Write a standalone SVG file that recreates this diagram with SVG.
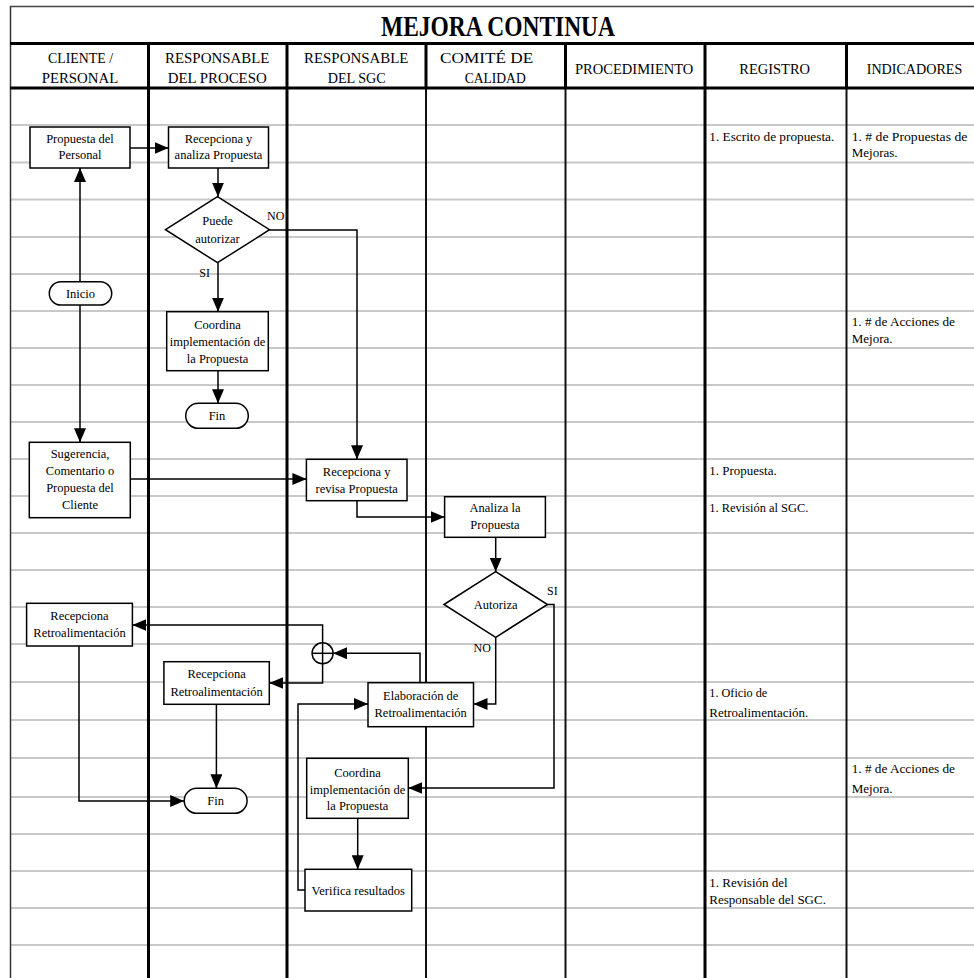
<svg xmlns="http://www.w3.org/2000/svg" width="974" height="978" viewBox="0 0 974 978">
  <style>
    .bg { fill: #ffffff; }
    .row { stroke: #c8c8c8; stroke-width: 2; }
    .lane3 { stroke: #000; stroke-width: 3; }
    .lane2 { stroke: #111; stroke-width: 2; }
    .box { fill: #fff; stroke: #000; stroke-width: 1.5; }
    .con { fill: none; stroke: #000; stroke-width: 1.5; }
    .arr { marker-end: url(#ah); }
    .t { font-family: "Liberation Serif", "Times New Roman", serif; font-size: 12.5px; fill: #000; text-anchor: middle; }
    .h { font-family: "Liberation Serif", "Times New Roman", serif; font-size: 15px; fill: #000; text-anchor: middle; }
    .title { font-family: "Liberation Serif", "Times New Roman", serif; font-size: 30px; font-weight: bold; fill: #000; }
    .note { font-family: "Liberation Serif", "Times New Roman", serif; font-size: 13px; fill: #000; }
    .lbl { font-family: "Liberation Serif", "Times New Roman", serif; font-size: 12px; fill: #000; }
  </style>
  <defs>
    <marker id="ah" markerUnits="userSpaceOnUse" markerWidth="14" markerHeight="12" refX="14" refY="6" orient="auto">
      <path d="M0,0 L14,6 L0,12 z" fill="#000"/>
    </marker>
  </defs>

  <rect class="bg" x="0" y="0" width="974" height="978"/>

  <!-- table grid -->
  <g id="grid">
    <g id="rows">
      <line class="row" x1="10" y1="125" x2="974" y2="125"/>
      <line class="row" x1="10" y1="162.5" x2="974" y2="162.5"/>
      <line class="row" x1="10" y1="199.5" x2="974" y2="199.5"/>
      <line class="row" x1="10" y1="237" x2="974" y2="237"/>
      <line class="row" x1="10" y1="274" x2="974" y2="274"/>
      <line class="row" x1="10" y1="311" x2="974" y2="311"/>
      <line class="row" x1="10" y1="348" x2="974" y2="348"/>
      <line class="row" x1="10" y1="385" x2="974" y2="385"/>
      <line class="row" x1="10" y1="422" x2="974" y2="422"/>
      <line class="row" x1="10" y1="459" x2="974" y2="459"/>
      <line class="row" x1="10" y1="496" x2="974" y2="496"/>
      <line class="row" x1="10" y1="533" x2="974" y2="533"/>
      <line class="row" x1="10" y1="570" x2="974" y2="570"/>
      <line class="row" x1="10" y1="607" x2="974" y2="607"/>
      <line class="row" x1="10" y1="644" x2="974" y2="644"/>
      <line class="row" x1="10" y1="682" x2="974" y2="682"/>
      <line class="row" x1="10" y1="720" x2="974" y2="720"/>
      <line class="row" x1="10" y1="758" x2="974" y2="758"/>
      <line class="row" x1="10" y1="797" x2="974" y2="797"/>
      <line class="row" x1="10" y1="834" x2="974" y2="834"/>
      <line class="row" x1="10" y1="871" x2="974" y2="871"/>
      <line class="row" x1="10" y1="908" x2="974" y2="908"/>
      <line class="row" x1="10" y1="945" x2="974" y2="945"/>
    </g>
    <g id="lanes">
      <line x1="10.5" y1="6" x2="10.5" y2="978" stroke="#333" stroke-width="1.5"/>
      <line x1="10" y1="6.5" x2="974" y2="6.5" stroke="#444" stroke-width="1.5"/>
      <line class="lane3" x1="148.5" y1="44" x2="148.5" y2="978"/>
      <line class="lane3" x1="287" y1="44" x2="287" y2="978"/>
      <line class="lane2" x1="426" y1="44" x2="426" y2="978"/>
      <line class="lane2" x1="565.5" y1="44" x2="565.5" y2="978"/>
      <line class="lane3" x1="705" y1="44" x2="705" y2="978"/>
      <line class="lane2" x1="846.5" y1="44" x2="846.5" y2="978"/>
      <!-- header separators drawn heavier -->
      <line class="lane3" x1="426" y1="44" x2="426" y2="88"/>
      <line class="lane3" x1="565.5" y1="44" x2="565.5" y2="88"/>
      <line class="lane3" x1="846.5" y1="44" x2="846.5" y2="88"/>
      <line class="lane3" x1="10" y1="43.5" x2="974" y2="43.5"/>
      <line class="lane3" x1="10" y1="88" x2="974" y2="88"/>
    </g>
  </g>

  <!-- title and lane headers -->
  <g id="header">
    <text class="title" x="381" y="36" textLength="234" lengthAdjust="spacingAndGlyphs">MEJORA CONTINUA</text>
    <text class="h" x="80.5" y="63" textLength="65" lengthAdjust="spacingAndGlyphs">CLIENTE /</text>
    <text class="h" x="80" y="83" textLength="76.6" lengthAdjust="spacingAndGlyphs">PERSONAL</text>
    <text class="h" x="217.2" y="63" textLength="104.3" lengthAdjust="spacingAndGlyphs">RESPONSABLE</text>
    <text class="h" x="217.2" y="83" textLength="99" lengthAdjust="spacingAndGlyphs">DEL PROCESO</text>
    <text class="h" x="356.2" y="63" textLength="104.3" lengthAdjust="spacingAndGlyphs">RESPONSABLE</text>
    <text class="h" x="356.7" y="83" textLength="58" lengthAdjust="spacingAndGlyphs">DEL SGC</text>
    <text class="h" x="486.7" y="63" textLength="93.3" lengthAdjust="spacingAndGlyphs">COMITÉ DE</text>
    <text class="h" x="495.2" y="83" textLength="61" lengthAdjust="spacingAndGlyphs">CALIDAD</text>
    <text class="h" x="634.2" y="74" textLength="118.3" lengthAdjust="spacingAndGlyphs">PROCEDIMIENTO</text>
    <text class="h" x="774.7" y="74" textLength="70.7" lengthAdjust="spacingAndGlyphs">REGISTRO</text>
    <text class="h" x="914.5" y="74" textLength="95.6" lengthAdjust="spacingAndGlyphs">INDICADORES</text>
  </g>

  <!-- connectors -->
  <g id="connectors">
    <path class="con arr" d="M130,148 H168.5"/>
    <path class="con arr" d="M218,168 V196.7"/>
    <path class="con arr" d="M218,262.7 V311.7"/>
    <path class="con arr" d="M218,370.7 V403.3"/>
    <path class="con arr" d="M269.5,230 H357 V459.3"/>
    <path class="con arr" d="M80,281.7 V168"/>
    <path class="con arr" d="M80,305 V442.3"/>
    <path class="con arr" d="M130.3,479 H306.4"/>
    <path class="con arr" d="M357,500.7 V517 H444.6"/>
    <path class="con arr" d="M495.7,537.3 V571.7"/>
    <path class="con arr" d="M547.5,604.5 H554 V788 H408.3"/>
    <path class="con arr" d="M495.7,637.3 V704 H473.5"/>
    <path class="con arr" d="M420,682.7 V653.3 H333.1"/>
    <path class="con arr" d="M322.6,642.8 V625 H132.4"/>
    <path class="con arr" d="M322.6,663.8 V683 H269.3"/>
    <path class="con arr" d="M216.4,704.3 V788.3"/>
    <path class="con arr" d="M79,646 V801 H184.2"/>
    <path class="con arr" d="M357.7,818.3 V869.3"/>
    <path class="con arr" d="M305,890 H298 V704 H368"/>
  </g>

  <!-- CLIENTE / PERSONAL lane -->
  <g id="n-propuesta-personal">
    <rect class="box" x="30" y="127" width="100" height="41"/>
    <text class="t" x="80" y="143.3">Propuesta del</text>
    <text class="t" x="80" y="159.3">Personal</text>
  </g>
  <g id="n-inicio">
    <rect class="box" x="49.3" y="281.7" width="62.4" height="23.3" rx="11.6"/>
    <text class="t" x="80.5" y="298">Inicio</text>
  </g>
  <g id="n-sugerencia">
    <rect class="box" x="29.3" y="442.3" width="101" height="75.4"/>
    <text class="t" x="80" y="457.5">Sugerencia,</text>
    <text class="t" x="80" y="474.5">Comentario o</text>
    <text class="t" x="80" y="491.5">Propuesta del</text>
    <text class="t" x="80" y="508.5">Cliente</text>
  </g>
  <g id="n-recepciona-cliente">
    <rect class="box" x="26.6" y="603.3" width="105.8" height="42.7"/>
    <text class="t" x="79.5" y="620">Recepciona</text>
    <text class="t" x="79.5" y="637.3">Retroalimentación</text>
  </g>

  <!-- RESPONSABLE DEL PROCESO lane -->
  <g id="n-recepciona-analiza">
    <rect class="box" x="168.5" y="127" width="100" height="41"/>
    <text class="t" x="218.5" y="143.3">Recepciona y</text>
    <text class="t" x="218.5" y="159.3">analiza Propuesta</text>
  </g>
  <g id="n-puede-autorizar">
    <polygon class="box" points="165.5,229.7 217.5,196.7 269.5,229.7 217.5,262.7"/>
    <text class="t" x="217.5" y="225">Puede</text>
    <text class="t" x="217.5" y="242.7">autorizar</text>
  </g>
  <g id="n-coordina-proceso">
    <rect class="box" x="166.7" y="311.7" width="101.6" height="59"/>
    <text class="t" x="217.5" y="328.5">Coordina</text>
    <text class="t" x="217.5" y="345.5">implementación de</text>
    <text class="t" x="217.5" y="362.5">la Propuesta</text>
  </g>
  <g id="n-fin-1">
    <rect class="box" x="185.7" y="403.3" width="62.6" height="25" rx="12.5"/>
    <text class="t" x="217" y="419.8">Fin</text>
  </g>
  <g id="n-recepciona-proceso">
    <rect class="box" x="163.9" y="661.7" width="105.4" height="42.6"/>
    <text class="t" x="216.6" y="678.3">Recepciona</text>
    <text class="t" x="216.6" y="696">Retroalimentación</text>
  </g>
  <g id="n-fin-2">
    <rect class="box" x="184.2" y="788.3" width="62.9" height="25" rx="12.5"/>
    <text class="t" x="215.6" y="805">Fin</text>
  </g>

  <!-- RESPONSABLE DEL SGC lane -->
  <g id="n-recepciona-revisa">
    <rect class="box" x="306.4" y="459.3" width="100.6" height="41.4"/>
    <text class="t" x="356.7" y="476">Recepciona y</text>
    <text class="t" x="356.7" y="492.7">revisa Propuesta</text>
  </g>
  <g id="n-union">
    <circle class="box" cx="322.6" cy="653.3" r="10.5"/>
    <line class="con" x1="312.1" y1="653.3" x2="333.1" y2="653.3"/>
    <line class="con" x1="322.6" y1="642.8" x2="322.6" y2="663.8"/>
  </g>
  <g id="n-elaboracion">
    <rect class="box" x="368" y="682.7" width="105.5" height="44"/>
    <text class="t" x="420.7" y="700">Elaboración de</text>
    <text class="t" x="420.7" y="717.3">Retroalimentación</text>
  </g>
  <g id="n-coordina-sgc">
    <rect class="box" x="306.7" y="758.3" width="101.6" height="60"/>
    <text class="t" x="357.5" y="776.5">Coordina</text>
    <text class="t" x="357.5" y="793.5">implementación de</text>
    <text class="t" x="357.5" y="810">la Propuesta</text>
  </g>
  <g id="n-verifica">
    <rect class="box" x="305" y="869.3" width="106.7" height="41.7"/>
    <text class="t" x="358.3" y="895">Verifica resultados</text>
  </g>

  <!-- COMITÉ DE CALIDAD lane -->
  <g id="n-analiza">
    <rect class="box" x="444.6" y="496.7" width="100.8" height="40.6"/>
    <text class="t" x="495" y="512">Analiza la</text>
    <text class="t" x="495" y="529">Propuesta</text>
  </g>
  <g id="n-autoriza">
    <polygon class="box" points="444,604.5 495.7,571.7 547.5,604.5 495.7,637.3"/>
    <text class="t" x="495.7" y="608.5">Autoriza</text>
  </g>

  <!-- branch labels -->
  <g id="labels">
    <text class="lbl" x="267" y="220">NO</text>
    <text class="lbl" x="199.3" y="276.7">SI</text>
    <text class="lbl" x="547" y="595">SI</text>
    <text class="lbl" x="473.5" y="651.7">NO</text>
  </g>

  <!-- REGISTRO column -->
  <g id="registro">
    <text class="note" x="709.3" y="140.7" textLength="125" lengthAdjust="spacingAndGlyphs">1. Escrito de propuesta.</text>
    <text class="note" x="709.3" y="475" textLength="67.4" lengthAdjust="spacingAndGlyphs">1. Propuesta.</text>
    <text class="note" x="709.3" y="511.7" textLength="99" lengthAdjust="spacingAndGlyphs">1. Revisión al SGC.</text>
    <text class="note" x="709.3" y="696.7" textLength="58" lengthAdjust="spacingAndGlyphs">1. Oficio de</text>
    <text class="note" x="709.3" y="716.7" textLength="99" lengthAdjust="spacingAndGlyphs">Retroalimentación.</text>
    <text class="note" x="709.3" y="886.5">1. Revisión del</text>
    <text class="note" x="709.3" y="904">Responsable del SGC.</text>
  </g>

  <!-- INDICADORES column -->
  <g id="indicadores">
    <text class="note" x="851.7" y="140.7" textLength="115.6" lengthAdjust="spacingAndGlyphs">1. # de Propuestas de</text>
    <text class="note" x="851.7" y="156.7">Mejoras.</text>
    <text class="note" x="851.7" y="326" textLength="103.3" lengthAdjust="spacingAndGlyphs">1. # de Acciones de</text>
    <text class="note" x="851.7" y="343.3">Mejora.</text>
    <text class="note" x="851.7" y="773.3" textLength="103.3" lengthAdjust="spacingAndGlyphs">1. # de Acciones de</text>
    <text class="note" x="851.7" y="792.7">Mejora.</text>
  </g>
</svg>
